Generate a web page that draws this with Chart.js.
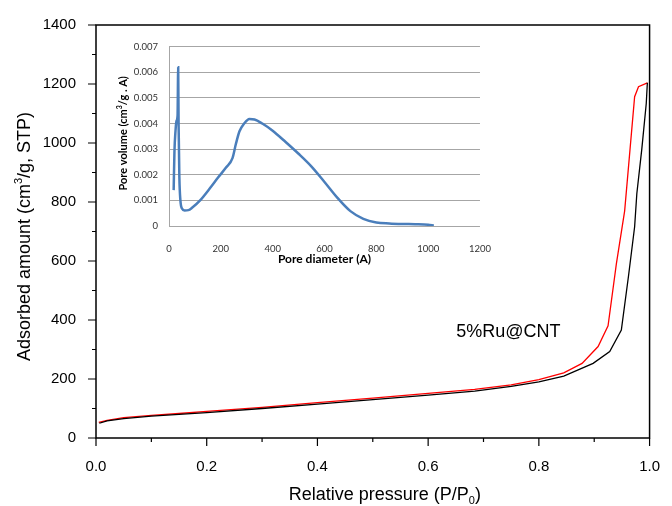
<!DOCTYPE html>
<html>
<head>
<meta charset="utf-8">
<script src="https://cdn.jsdelivr.net/npm/chart.js@4/dist/chart.umd.min.js"></script>
<style>
  html, body { margin: 0; padding: 0; background: #fff; }
  #wrap { position: relative; width: 672px; height: 506px; }
  #main { position: absolute; left: 0; top: 0; }
  #inset { position: absolute; left: 100px; top: 30px; }
</style>
</head>
<body>
<div id="wrap">
  <canvas id="main" width="672" height="506"></canvas>
  <canvas id="inset" width="400" height="250"></canvas>
</div>
<script>
(function () {
  'use strict';

  // isotherm, adsorption branch (black)
  const pressureAds = [0.006, 0.02, 0.05, 0.1, 0.15, 0.2, 0.3, 0.4, 0.5, 0.6, 0.684, 0.75, 0.8, 0.845, 0.898, 0.928, 0.949, 0.962, 0.973, 0.977, 0.986, 0.994, 0.996];
  const adsorbed = [50, 58, 66, 74, 80, 86, 100, 115, 130, 145, 159, 175, 190, 210, 253, 293, 366, 550, 716, 829, 980, 1134, 1204];

  // desorption branch (red)
  const pressureDes = [0.005, 0.02, 0.05, 0.1, 0.15, 0.2, 0.3, 0.4, 0.5, 0.6, 0.684, 0.75, 0.8, 0.845, 0.878, 0.907, 0.925, 0.94, 0.955, 0.965, 0.973, 0.98, 0.996];
  const desorbed = [53, 60, 69, 77, 83, 90, 104, 120, 135, 151, 165, 180, 198, 221, 253, 310, 380, 590, 770, 985, 1157, 1191, 1204];

  // inset: pore size distribution
  const poreDiameter = [18, 21, 25, 29, 33, 35.5, 37, 40, 44, 50, 60, 75, 90, 120, 160, 190, 220, 245, 258, 272, 290, 310, 330, 360, 400, 450, 500, 550, 600, 650, 700, 750, 800, 850, 900, 950, 1000, 1022];
  const poreVolume = [0.0014, 0.0029, 0.0037, 0.0041, 0.0043, 0.0062, 0.0040, 0.0019, 0.0010, 0.00068, 0.00061, 0.00062, 0.00072, 0.00100, 0.00150, 0.00190, 0.00228, 0.00265, 0.00320, 0.00370, 0.00400, 0.00418, 0.00416, 0.00400, 0.00372, 0.00328, 0.00282, 0.00232, 0.00172, 0.00110, 0.00058, 0.00028, 0.00014, 0.00010, 0.00008, 0.00007, 0.00005, 0.00002];

  const sampleLabel = '5%Ru@CNT';
  const mainFont = '"Liberation Sans", Arial, sans-serif';
  const insetFont = 'Lato, "Open Sans", sans-serif';

  // draw text with super/subscript pieces, centered on (x, y)
  function drawRich(ctx, parts, x, y, size, family, weight, rot) {
    const small = Math.round(size * 0.62);
    let total = 0;
    parts.forEach(p => {
      ctx.font = weight + ' ' + (p.s ? small : size) + 'px ' + family;
      p.w = ctx.measureText(p.t).width;
      total += p.w;
    });
    ctx.save();
    ctx.translate(x, y);
    if (rot) ctx.rotate(rot);
    ctx.textBaseline = 'alphabetic';
    ctx.textAlign = 'left';
    ctx.fillStyle = '#000';
    let cx = -total / 2;
    parts.forEach(p => {
      ctx.font = weight + ' ' + (p.s ? small : size) + 'px ' + family;
      let dy = 0;
      if (p.s === 1) dy = -size * 0.42;
      if (p.s === -1) dy = size * 0.22;
      ctx.fillText(p.t, cx, dy);
      cx += p.w;
    });
    ctx.restore();
  }

  const mainDecor = {
    id: 'mainDecor',
    afterDraw(chart) {
      const ctx = chart.ctx;
      const a = chart.chartArea;
      const xs = chart.scales.x, ys = chart.scales.y;
      ctx.save();
      ctx.strokeStyle = '#000';
      ctx.lineWidth = 1.5;
      ctx.strokeRect(a.left, a.top, a.right - a.left, a.bottom - a.top);
      ctx.lineWidth = 1.2;
      ctx.beginPath();
      for (let v = 0; v <= 1400; v += 100) {
        const py = ys.getPixelForValue(v);
        const len = v % 200 === 0 ? 8 : 4;
        ctx.moveTo(a.left - len, py);
        ctx.lineTo(a.left, py);
      }
      for (let i = 0; i <= 10; i++) {
        const px = xs.getPixelForValue(i / 10);
        const len = i % 2 === 0 ? 8 : 4;
        ctx.moveTo(px, a.bottom);
        ctx.lineTo(px, a.bottom + len);
      }
      ctx.stroke();
      ctx.restore();

      drawRich(ctx, [{ t: 'Adsorbed amount (cm' }, { t: '3', s: 1 }, { t: '/g, STP)' }],
        30, (a.top + a.bottom) / 2 + 5, 18, mainFont, 'normal', -Math.PI / 2);
      drawRich(ctx, [{ t: 'Relative pressure (P/P' }, { t: '0', s: -1 }, { t: ')' }],
        (a.left + a.right) / 2 + 12, 500, 18, mainFont, 'normal', 0);
      drawRich(ctx, [{ t: sampleLabel }],
        xs.getPixelForValue(0.745), ys.getPixelForValue(342), 18, mainFont, 'normal', 0);
    }
  };

  new Chart(document.getElementById('main'), {
    type: 'line',
    data: {
      datasets: [{
        label: 'Adsorption',
        data: pressureAds.map((p, i) => ({ x: p, y: adsorbed[i] })),
        borderColor: '#000000',
        borderWidth: 1.3,
        pointRadius: 0,
        tension: 0
      }, {
        label: 'Desorption',
        data: pressureDes.map((p, i) => ({ x: p, y: desorbed[i] })),
        borderColor: '#ff0000',
        borderWidth: 1.3,
        pointRadius: 0,
        tension: 0
      }]
    },
    options: {
      responsive: false,
      animation: false,
      devicePixelRatio: 1,
      layout: { padding: { top: 25, right: 15, left: 0, bottom: 0 } },
      plugins: { legend: { display: false }, tooltip: { enabled: false } },
      scales: {
        x: {
          type: 'linear', min: 0, max: 1,
          ticks: { stepSize: 0.2, callback: v => Number(v).toFixed(1), color: '#000', padding: 12, font: { size: 15, family: mainFont } },
          grid: { display: false },
          border: { display: false },
          afterFit: s => { s.height = 68; }
        },
        y: {
          min: 0, max: 1400,
          ticks: { stepSize: 200, callback: v => String(v), color: '#000', padding: 12, font: { size: 15, family: mainFont } },
          grid: { display: false },
          border: { display: false },
          afterFit: s => { s.width = 96; }
        }
      }
    },
    plugins: [mainDecor]
  });

  const insetDecor = {
    id: 'insetDecor',
    afterDraw(chart) {
      const ctx = chart.ctx;
      const a = chart.chartArea;
      drawRich(ctx, [{ t: 'Pore diameter (A)' }], (a.left + a.right) / 2, 233, 12, insetFont, 'bold', 0);
      drawRich(ctx, [{ t: 'Pore volume (cm' }, { t: '3', s: 1 }, { t: '/g . A)' }], 27, (a.top + a.bottom) / 2 - 3, 11, insetFont, 'bold', -Math.PI / 2);
    }
  };

  new Chart(document.getElementById('inset'), {
    type: 'line',
    data: {
      datasets: [{
        label: 'Pore volume',
        data: poreDiameter.map((d, i) => ({ x: d, y: poreVolume[i] })),
        borderColor: '#4a7ebb',
        borderWidth: 2.5,
        pointRadius: 0,
        cubicInterpolationMode: 'monotone'
      }]
    },
    options: {
      responsive: false,
      animation: false,
      devicePixelRatio: 1,
      layout: { padding: { top: 14, right: 15, left: 0, bottom: 0 } },
      plugins: { legend: { display: false }, tooltip: { enabled: false } },
      scales: {
        x: {
          type: 'linear', min: 0, max: 1200,
          ticks: { stepSize: 200, callback: v => String(v), color: '#333', padding: 9, font: { size: 9.5, family: insetFont } },
          grid: { display: false },
          border: { display: false },
          afterFit: s => { s.height = 54; }
        },
        y: {
          min: 0, max: 0.007,
          ticks: { stepSize: 0.001, color: '#333', padding: 11, font: { size: 9.5, family: insetFont },
            callback: v => (Math.abs(v) < 1e-9 ? '0' : Number(v).toFixed(3)) },
          grid: { color: '#a6a6a6', lineWidth: 1, drawTicks: false },
          border: { display: true, color: '#a6a6a6' },
          afterFit: s => { s.width = 69; }
        }
      }
    },
    plugins: [insetDecor]
  });
})();
</script>
</body>
</html>
